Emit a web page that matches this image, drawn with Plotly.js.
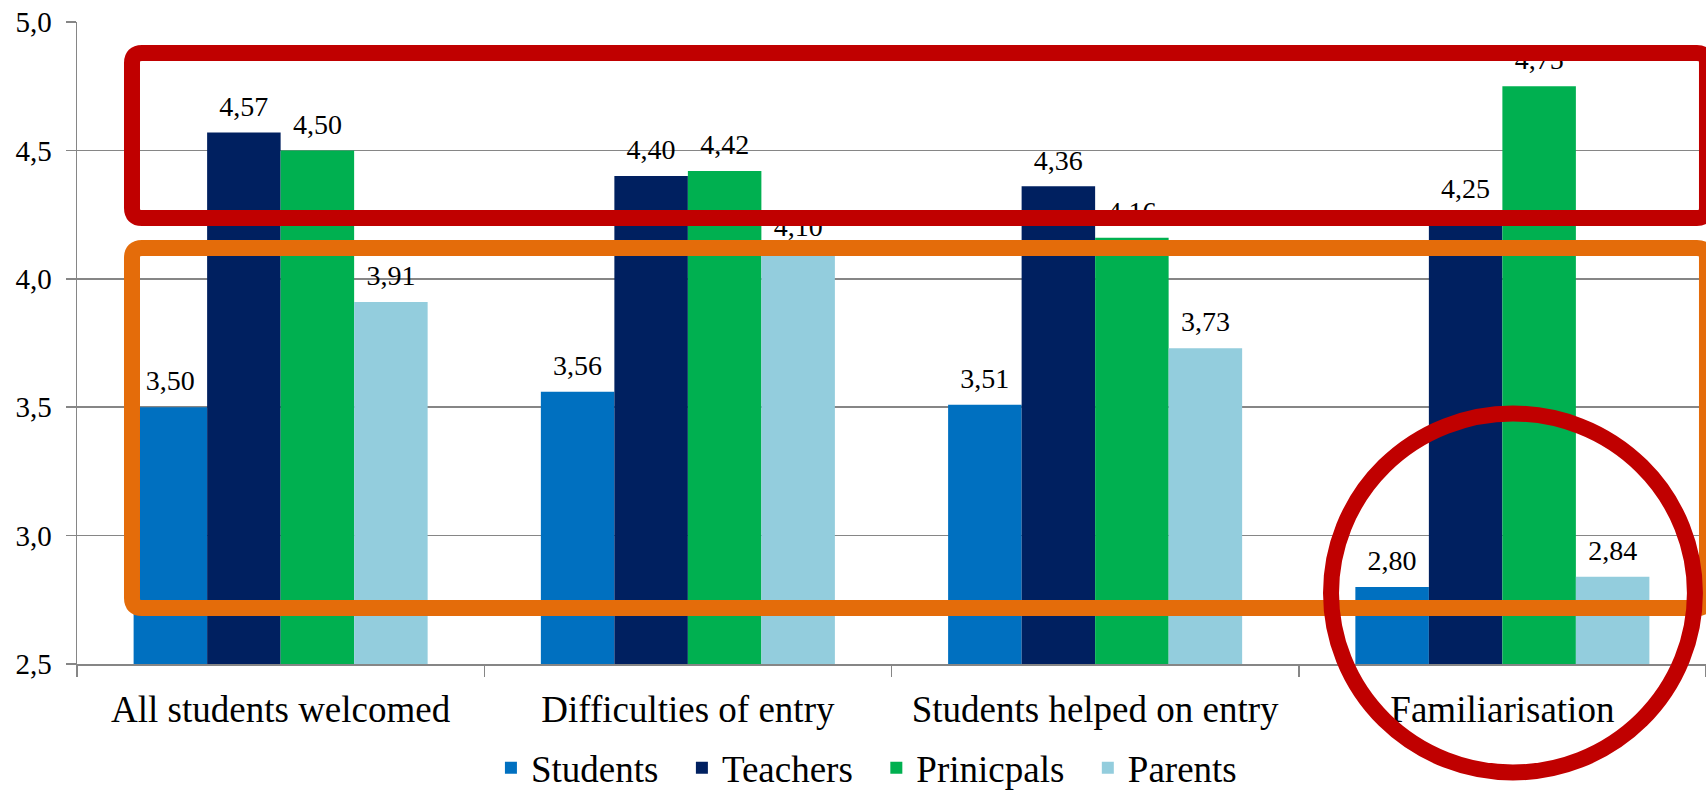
<!DOCTYPE html>
<html>
<head>
<meta charset="utf-8">
<script src="https://cdn.plot.ly/plotly-3.0.1.min.js"></script>
<style>
  html, body { margin: 0; padding: 0; background: #ffffff; }
  #chart { width: 1706px; height: 791px; }
</style>
</head>
<body>
<div id="chart"></div>
<script>
// ---- data ----
var categories = ["All students welcomed", "Difficulties of entry", "Students helped on entry", "Familiarisation"];
var seriesNames = ["Students", "Teachers", "Prinicpals", "Parents"];
var students   = [3.50, 3.56, 3.51, 2.80];
var teachers   = [4.57, 4.40, 4.36, 4.25];
var principals = [4.50, 4.42, 4.16, 4.75];
var parents    = [3.91, 4.10, 3.73, 2.84];
var yTickVals  = [2.5, 3.0, 3.5, 4.0, 4.5, 5.0];
var yTickText  = ["2,5", "3,0", "3,5", "4,0", "4,5", "5,0"];

// ---- style ----
var colors = ["#0070C0", "#002060", "#00B050", "#93CDDD"];
var serif = "Liberation Serif";
var gridGray = "#868686";
var NB = "\u00a0\u00a0";   // spacing after legend entries

var values = [students, teachers, principals, parents];
var traces = [];
values.forEach(function (v, i) {
  traces.push({
    type: "bar",
    name: seriesNames[i] + (i < 3 ? NB : ""),
    x: categories,
    y: v,
    marker: { color: colors[i], line: { width: 0 } },
    hoverinfo: "skip"
  });
});
// value labels, grouped like the bars
values.forEach(function (v, i) {
  traces.push({
    type: "scatter",
    mode: "markers+text",
    x: categories,
    y: v,
    showlegend: false,
    marker: { size: 14, color: "rgba(0,0,0,0)", line: { width: 0 } },
    texttemplate: "%{y:.2f}",
    textposition: "top center",
    cliponaxis: false,
    textfont: { family: serif, size: 28, color: "#000000" },
    hoverinfo: "skip"
  });
});

// helper: rounded rectangle path in paper coords
var plotW = 1629, plotH = 642;
function roundRect(x0, y0, x1, y1, rpx) {
  var rx = rpx / plotW, ry = rpx / plotH;
  return "M" + (x0 + rx) + "," + y1 +
    " L" + (x1 - rx) + "," + y1 +
    " Q" + x1 + "," + y1 + " " + x1 + "," + (y1 - ry) +
    " L" + x1 + "," + (y0 + ry) +
    " Q" + x1 + "," + y0 + " " + (x1 - rx) + "," + y0 +
    " L" + (x0 + rx) + "," + y0 +
    " Q" + x0 + "," + y0 + " " + x0 + "," + (y0 + ry) +
    " L" + x0 + "," + (y1 - ry) +
    " Q" + x0 + "," + y1 + " " + (x0 + rx) + "," + y1 + " Z";
}

var layout = {
  width: 1706,
  height: 791,
  margin: { l: 77, r: 0, t: 22, b: 127, pad: 0, autoexpand: false },
  paper_bgcolor: "#ffffff",
  plot_bgcolor: "#ffffff",
  separators: ",.",
  barmode: "group",
  bargap: 0.278,
  bargroupgap: 0,
  scattermode: "group",
  scattergap: 0.278,
  showlegend: true,
  font: { family: serif, color: "#000000" },
  xaxis: {
    type: "category",
    tickson: "boundaries",
    ticks: "outside",
    ticklen: 11,
    tickwidth: 1.5,
    tickcolor: gridGray,
    showline: true,
    linecolor: gridGray,
    linewidth: 1.5,
    showgrid: false,
    tickfont: { family: serif, size: 37, color: "#000000" },
    ticklabelstandoff: 12,
    automargin: false,
    fixedrange: true
  },
  yaxis: {
    range: [2.5, 5.0],
    tickvals: yTickVals,
    ticktext: yTickText,
    ticks: "outside",
    ticklen: 10,
    tickwidth: 1.5,
    tickcolor: gridGray,
    showline: true,
    linecolor: gridGray,
    linewidth: 1.5,
    showgrid: true,
    gridcolor: gridGray,
    gridwidth: 1.5,
    zeroline: false,
    tickfont: { family: serif, size: 29, color: "#000000" },
    ticklabelstandoff: 8,
    automargin: false,
    fixedrange: true
  },
  legend: {
    orientation: "h",
    x: 0.2541,
    xanchor: "left",
    y: -0.1623,
    yanchor: "middle",
    font: { family: serif, size: 37, color: "#000000" },
    bgcolor: "rgba(0,0,0,0)",
    traceorder: "normal"
  },
  shapes: [
    {
      type: "path", xref: "paper", yref: "paper", layer: "above",
      path: roundRect(0.03376, 0.6947, 1.0006, 0.9517, 10),
      line: { color: "#C00000", width: 16 }
    },
    {
      type: "path", xref: "paper", yref: "paper", layer: "above",
      path: roundRect(0.03376, 0.0872, 1.0006, 0.6480, 10),
      line: { color: "#E46C0A", width: 16 }
    },
    {
      type: "circle", xref: "paper", yref: "paper", layer: "above",
      x0: 0.7698, x1: 0.9932, y0: -0.169, y1: 0.3902,
      line: { color: "#C00000", width: 16 }
    }
  ]
};

Plotly.newPlot("chart", traces, layout, { displayModeBar: false, staticPlot: true });
</script>
</body>
</html>
